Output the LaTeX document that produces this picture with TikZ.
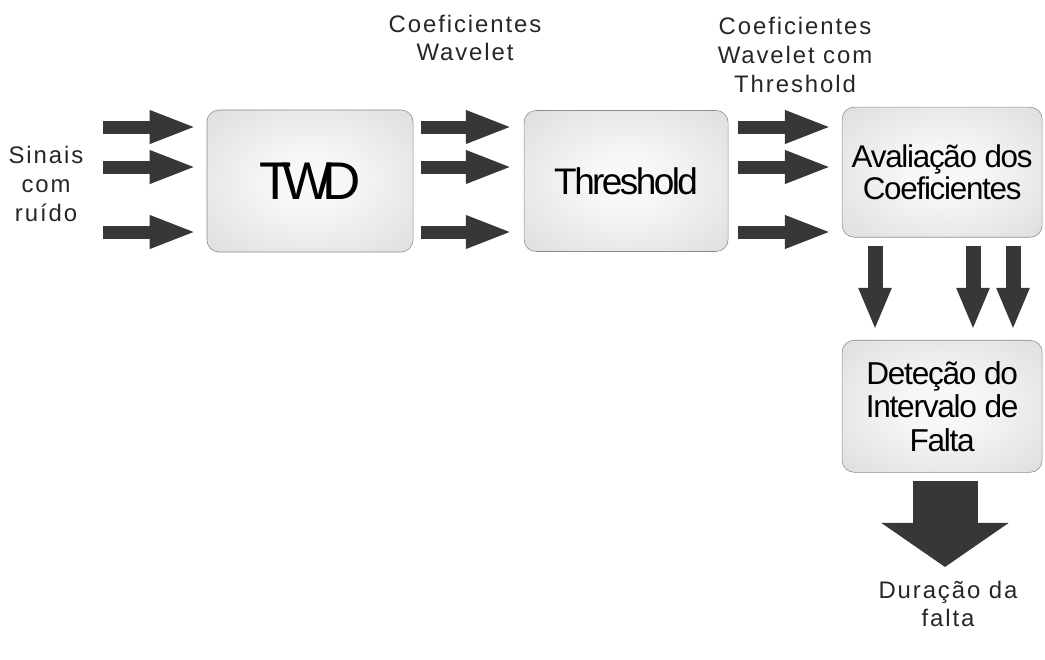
\documentclass[tikz,border=0pt]{standalone}
\usepackage{fontspec}
\setmainfont{Liberation Sans}
\newfontfamily\boxfont[LetterSpace=-4]{Liberation Sans}
\newfontfamily\threshfont[LetterSpace=-7]{Liberation Sans}
\newfontfamily\twdfont[LetterSpace=-18]{Liberation Sans}
\newfontfamily\sidefont[LetterSpace=8]{Liberation Sans}
\usetikzlibrary{arrows.meta}

\definecolor{boxedge}{RGB}{140,140,140}
\definecolor{boxin}{RGB}{248,248,248}
\definecolor{boxmid}{RGB}{218,218,218}
\definecolor{boxout}{RGB}{180,180,180}
\definecolor{arrowgray}{RGB}{55,55,55}
\pgfdeclareradialshading{boxglow}{\pgfpoint{0bp}{0bp}}{color(0bp)=(boxin); color(8bp)=(boxin); color(40bp)=(boxmid); color(70bp)=(boxout)}

\begin{document}
\begin{tikzpicture}[x=0.025cm,y=-0.025cm,node distance=7.9cm,
		flow/.style={draw=arrowgray,line width=0.325cm,-{Triangle[width=0.75cm,length=1.175cm]}},
		dropflow/.style={draw=arrowgray,line width=0.375cm,-{Triangle[width=0.75cm,length=1.05cm]}},
		bigflow/.style={draw=arrowgray,line width=1.625cm,-{Triangle[width=3.125cm,length=1.1cm]}}]
		\tikzstyle{block}=[rectangle,rounded corners=0.3cm,draw=boxedge,thin,shading=boxglow,align=center,inner sep=0pt]
		\tikzstyle{sidetext}=[font=\sidefont\fontsize{17}{20.5}\selectfont,align=center,inner sep=0pt,text=black!85]
		
		\useasboundingbox (0,0) rectangle (1045,659);
		
		\node[block,minimum width=5.15cm,minimum height=3.55cm,font=\twdfont\fontsize{37.7}{40}\selectfont]	(Twd) at (310,181)	{TWD};
		\node[block,minimum width=5.1cm,minimum height=3.525cm,font=\threshfont\fontsize{26.3}{28}\selectfont]	(Thresh)	[right of=Twd]	{Threshold};
		\node[block,minimum width=5cm,minimum height=3.25cm,font=\boxfont\fontsize{22.3}{22.8}\selectfont,yshift=0.22cm]	(EvalCoef)	[right of=Thresh]	{Avaliação dos\\Coeficientes};
		\node[block,minimum width=5cm,minimum height=3.3cm,font=\boxfont\fontsize{22.5}{23.8}\selectfont,node distance=5.85cm]	(DetFault)	[below of=EvalCoef]	{Deteção do\\Intervalo de\\Falta};
		
		\node[sidetext]	(InLabel)	at (46,184)	{Sinais\\com\\ruído};
		\node[sidetext]	(WaveLabel)	at (465,38)	{Coeficientes\\Wavelet};
		\node[sidetext]	(ThreshLabel)	at (795,55)	{Coeficientes\\Wavelet com\\Threshold};
		\node[sidetext]	(OutLabel)	at (948,604)	{Duração da\\falta};
		
		% three signals through the chain
		\coordinate (InA) at (103,127);
		\coordinate (InB) at (103,167);
		\coordinate (InC) at (103,232);
		\foreach \r in {A,B,C} {
			\draw[flow,shorten >=0.25cm] (In\r) -- (Twd.west |- In\r);
			\draw[flow,shorten <=0.2cm,shorten >=0.275cm] (Twd.east |- In\r) -- (Thresh.west |- In\r);
			\draw[flow,shorten <=0.25cm,shorten >=0.25cm] (Thresh.east |- In\r) -- (EvalCoef.west |- In\r);
		}
		
		\coordinate (ColA) at (875,0);
		\coordinate (ColB) at (973,0);
		\coordinate (ColC) at (1013,0);
		\foreach \c in {A,B,C}
			\draw[dropflow,shorten <=0.2cm,shorten >=0.25cm] (EvalCoef.south -| Col\c) -- (DetFault.north -| Col\c);
		
		\coordinate (Out) at (945,567);
		\draw[bigflow,shorten <=0.2cm] (DetFault.south -| Out) -- (Out);
		\end{tikzpicture}
\end{document}
